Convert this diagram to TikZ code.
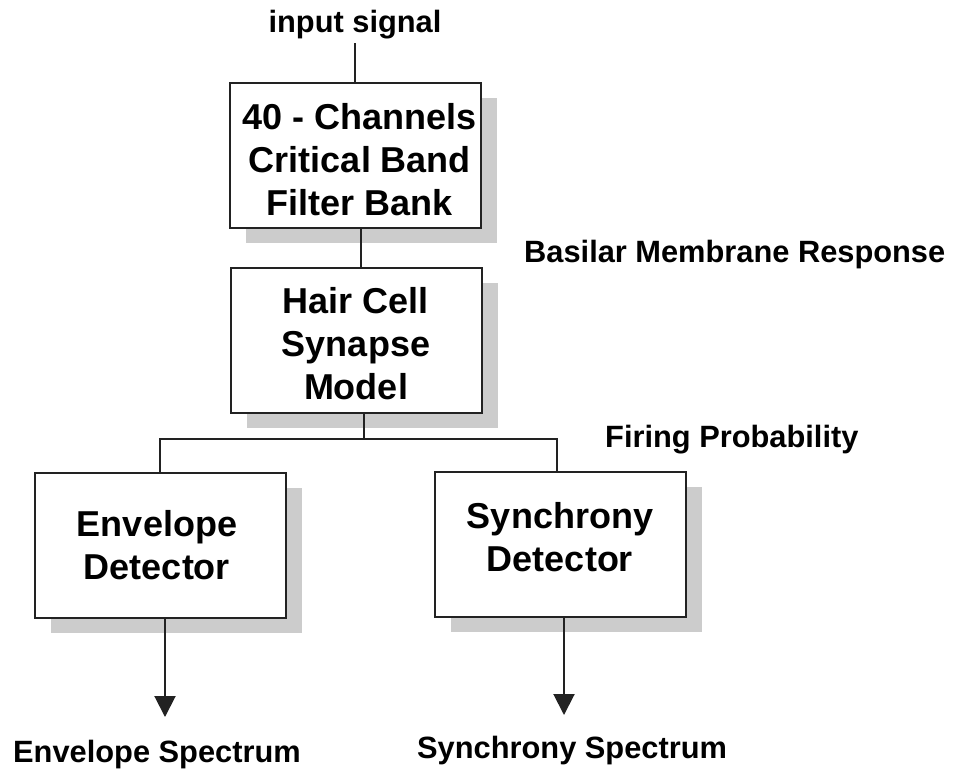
\documentclass[tikz,border=0pt]{standalone}
\usepackage{fontspec}
\setmainfont{Liberation Sans}
\usetikzlibrary{arrows.meta,shadows}
\definecolor{wire}{HTML}{222222}
\definecolor{shade}{HTML}{CCCCCC}
\begin{document}
\begin{tikzpicture}[x=1pt,y=-1pt,
  block/.style={draw=wire,line width=2pt,fill=white,inner sep=0pt,
    minimum width=251pt,minimum height=145pt,
    drop shadow={shadow xshift=16pt,shadow yshift=-15pt,fill=shade,opacity=1}},
  blocktext/.style={anchor=north,inner sep=0pt,align=center,
    font=\fontsize{36}{43}\selectfont\bfseries},
  caption/.style={inner sep=0pt,font=\fontsize{30.8}{36}\selectfont\bfseries},
  wireline/.style={draw=wire,line width=2pt},
  flow/.style={wireline,-{Triangle[width=21pt,length=21pt]}}]
% canvas
\path[use as bounding box,fill=white] (0,0) rectangle (953,769);

% processing blocks
\node[block] (bank) at (355.5,155) {};
\node[block] (hair) at (356,340.5) {};
\node[block] (env)  at (160,545) {};
\node[block] (sync) at (560,544.5) {};

\node[blocktext] (banktxt) at (360,103) {40 - Channels\\Critical Band\\Filter Bank};
\node[blocktext] (hairtxt) at (356,287) {Hair Cell\\Synapse\\Model};
\node[blocktext] (envtxt)  at (157,510) {Envelope\\Detector};
\node[blocktext] (synctxt) at (560,502) {Synchrony\\Detector};

% signal labels
\node[caption,anchor=base] (insig) at (355,32) {input signal};
\node[caption,anchor=base west] (bmr) at (524,262) {Basilar Membrane Response};
\node[caption,anchor=base west] (fp) at (605,447) {Firing Probability};
\node[caption,anchor=base west] (envspec) at (13,762) {Envelope Spectrum};
\node[caption,anchor=base west] (syncspec) at (417,758) {Synchrony Spectrum};

% connector end points
\coordinate (in) at (355,43);
\coordinate (link) at (361,0);
\coordinate (split) at (364,439);
\coordinate (envout) at (165,717);
\coordinate (syncout) at (564,715);

% connectors
\draw[wireline] (in) -- (in |- bank.north);
\draw[wireline] (bank.south -| link) -- (hair.north -| link);
\draw[wireline] (hair.south -| split) -- (split);
\draw[wireline] (env.north) |- (split) -| ([xshift=-3pt]sync.north);
\draw[flow] (env.south -| envout) -- (envout);
\draw[flow] (sync.south -| syncout) -- (syncout);
\end{tikzpicture}
\end{document}
